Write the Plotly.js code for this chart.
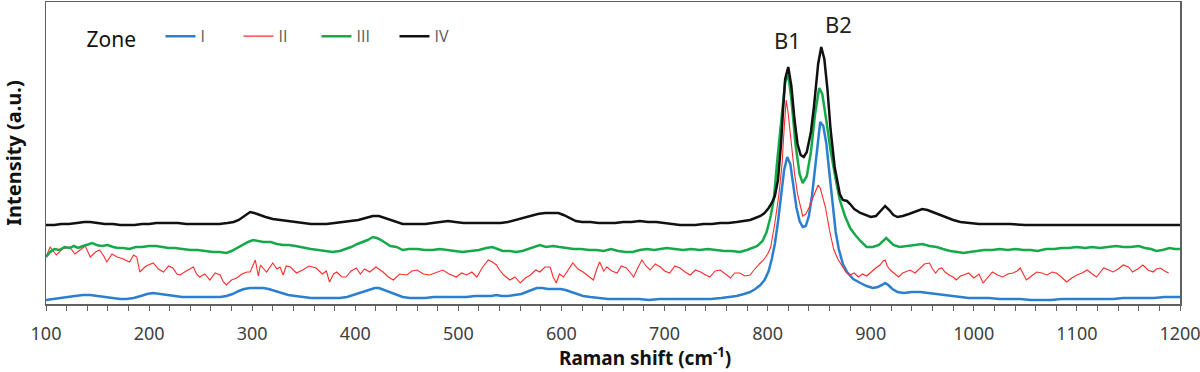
<!DOCTYPE html>
<html>
<head>
<meta charset="utf-8">
<script src="https://cdn.plot.ly/plotly-3.0.1.min.js"></script>
<style>
  html, body { margin: 0; padding: 0; background: #fff; }
  #ramanChart { width: 1200px; height: 372px; }
</style>
</head>
<body>
<div id="ramanChart"></div>
<script>
const palette = {
  zone1: "#2b7fd1",
  zone2: "#ff2b2b",
  zone3: "#16a94b",
  zone4: "#111111",
  axis: "#5f5f5f",
  tick: "#404040",
  ink: "#111111"
};
const fontFamily = "Noto Sans, sans-serif";

const zoneNames = ["I", "II", "III", "IV"];

// Zone I (blue)
const zone1Shift = [
  100, 106, 113, 120, 128, 136, 143, 150, 157, 165,
  172, 178, 185, 192, 198, 204, 210, 217, 224, 232,
  240, 248, 256, 263, 269, 275, 281, 287, 292, 298,
  305, 311, 316, 322, 328, 335, 342, 350, 357, 364,
  371, 378, 385, 392, 398, 404, 410, 415, 419, 423,
  428, 434, 440, 446, 453, 460, 468, 476, 484, 492,
  500, 508, 516, 524, 532, 537, 542, 548, 555, 561,
  566, 571, 576, 581, 587, 593, 599, 604, 609, 615,
  621, 628, 636, 645, 655, 665, 675, 685, 695, 705,
  715, 725, 735, 745, 755, 762, 770, 777, 783, 788,
  793, 797, 801, 804, 807, 810, 813, 816, 819, 822,
  825, 828, 831, 834, 837, 840, 843, 846, 849, 851,
  854, 857, 860, 863, 866, 869, 873, 877, 883, 890,
  896, 902, 907, 911, 914, 917, 921, 926, 932, 940,
  948, 956, 963, 970, 978, 986, 995, 1005, 1015, 1025,
  1035, 1045, 1055, 1065, 1075, 1085, 1095, 1105, 1115, 1125,
  1135, 1145, 1155, 1165, 1175, 1185, 1200
];
const zone1Intensity = [
  4, 5, 6, 7, 8, 9, 9, 8, 7, 6,
  5, 5, 6, 8, 10, 11, 10, 9, 8, 7,
  7, 7, 7, 7, 7, 8, 10, 13, 15, 16,
  16, 16, 15, 13, 11, 9, 8, 7, 6, 6,
  6, 6, 6, 7, 9, 11, 13, 15, 16, 16,
  14, 12, 9, 7, 6, 6, 6, 7, 7, 7,
  7, 7, 8, 8, 8, 9, 8, 8, 9, 10,
  12, 14, 16, 16, 15, 15, 15, 14, 12, 10,
  8, 7, 6, 5, 5, 5, 5, 4, 5, 5,
  5, 5, 5, 5, 6, 7, 8, 10, 12, 15,
  19, 24, 33, 45, 60, 82, 110, 134, 147, 140,
  118, 96, 83, 77, 78, 88, 108, 135, 165, 182,
  178, 160, 130, 98, 72, 55, 40, 32, 25, 21,
  18, 16, 17, 19, 21, 19, 15, 12, 11, 12,
  12, 11, 10, 9, 8, 7, 6, 6, 6, 5,
  5, 5, 4, 4, 4, 5, 5, 5, 5, 5,
  5, 6, 6, 6, 6, 7, 7
];

// Zone II (red, noisy)
const zone2Shift = [
  100, 104, 110, 116, 123, 128, 133, 138, 143, 148,
  152, 156, 159, 164, 169, 175, 181, 185, 188, 191,
  197, 204, 209, 214, 219, 223, 227, 230, 236, 243,
  246, 249, 254, 259, 264, 269, 272, 275, 280, 285,
  290, 295, 298, 303, 306, 308, 314, 320, 324, 327,
  330, 333, 337, 343, 349, 355, 362, 368, 372, 375,
  379, 382, 387, 391, 396, 401, 405, 409, 414, 420,
  427, 432, 437, 443, 450, 455, 460, 466, 472, 478,
  485, 491, 498, 503, 508, 513, 518, 523, 529, 533,
  537, 540, 544, 550, 555, 560, 565, 570, 575, 579,
  584, 589, 592, 595, 598, 602, 606, 611, 616, 621,
  626, 631, 634, 637, 641, 644, 649, 654, 658, 663,
  667, 670, 674, 678, 682, 686, 691, 696, 700, 705,
  710, 715, 720, 725, 730, 735, 740, 744, 749, 754,
  759, 764, 768, 773, 778, 783, 786, 789, 792, 796,
  800, 803, 807, 811, 814, 816, 818, 820, 823, 826,
  829, 832, 834, 837, 840, 843, 846, 849, 851, 853,
  856, 860, 864, 868, 872, 876, 880, 884, 888, 892,
  896, 900, 905, 909, 912, 914, 916, 919, 923, 927,
  931, 935, 938, 943, 948, 952, 957, 960, 963, 966,
  969, 972, 976, 980, 983, 987, 990, 995, 1000, 1005,
  1009, 1013, 1018, 1023, 1028, 1033, 1038, 1042, 1045, 1048,
  1051, 1056, 1061, 1066, 1071, 1076, 1080, 1085, 1090, 1095,
  1100, 1105, 1110, 1115, 1119, 1122, 1126, 1131, 1135, 1140,
  1145, 1150, 1154, 1159, 1164, 1169, 1174, 1177, 1181, 1185,
  1189
];
const zone2Intensity = [
  47, 57, 49, 55, 57, 50, 54, 58, 47, 52,
  54, 48, 42, 50, 47, 45, 42, 49, 47, 32,
  38, 41, 35, 32, 38, 36, 30, 29, 33, 37,
  30, 27, 30, 24, 31, 29, 22, 19, 24, 26,
  30, 32, 32, 44, 28, 39, 32, 41, 35, 37,
  29, 38, 37, 31, 34, 38, 36, 30, 33, 22,
  30, 32, 27, 27, 33, 36, 30, 35, 32, 37,
  32, 27, 24, 30, 29, 33, 34, 30, 29, 31,
  34, 30, 27, 31, 29, 32, 27, 36, 44, 42,
  39, 34, 29, 24, 27, 21, 26, 29, 34, 32,
  37, 37, 27, 21, 30, 27, 33, 41, 35, 32,
  28, 24, 34, 42, 33, 37, 33, 31, 38, 36,
  31, 27, 36, 44, 38, 34, 40, 37, 33, 31,
  38, 36, 32, 29, 34, 32, 29, 27, 33, 34,
  30, 26, 31, 31, 28, 29, 33, 37, 40, 44,
  50, 57, 81, 110, 140, 175, 204, 190, 160, 131,
  110, 95, 88, 90, 96, 104, 112, 119, 116, 108,
  97, 74, 55, 45, 38, 32, 29, 31, 27, 30,
  28, 32, 36, 39, 43, 44, 38, 34, 30, 27,
  31, 33, 34, 31, 36, 40, 41, 35, 31, 35,
  36, 32, 29, 27, 24, 28, 29, 31, 26, 30,
  21, 26, 32, 29, 27, 30, 31, 33, 36, 30,
  24, 28, 32, 31, 29, 32, 31, 27, 22, 26,
  29, 31, 34, 30, 27, 31, 36, 34, 32, 35,
  39, 37, 32, 35, 39, 34, 32, 35, 36, 33,
  31
];

// Zone III (green)
const zone3Shift = [
  100, 104, 108, 113, 118, 123, 127, 131, 136, 140,
  145, 149, 154, 160, 165, 170, 175, 181, 187, 193,
  200, 207, 213, 219, 225, 233, 240, 247, 254, 262,
  268, 275, 280, 285, 290, 296, 301, 306, 311, 318,
  324, 330, 336, 342, 350, 357, 364, 372, 378, 385,
  391, 396, 402, 407, 412, 417, 421, 425, 430, 434,
  440, 446, 452, 460, 468, 475, 482, 490, 497, 504,
  512, 520, 527, 533, 538, 543, 550, 556, 562, 568,
  574, 579, 585, 592, 598, 605, 612, 619, 627, 634,
  641, 648, 655, 662, 669, 676, 683, 690, 697, 702,
  710, 718, 726, 734, 742, 750, 758, 765, 773, 780,
  786, 790, 795, 799, 803, 806, 809, 813, 817, 820,
  823, 827, 831, 834, 838, 842, 846, 850, 853, 857,
  861, 866, 870, 875, 880, 885, 890, 896, 902, 908,
  912, 915, 918, 922, 928, 935, 942, 950, 957, 964,
  970, 977, 984, 990, 996, 1003, 1010, 1018, 1025, 1033,
  1040, 1048, 1055, 1062, 1070, 1078, 1085, 1092, 1100, 1108,
  1115, 1122, 1130, 1138, 1145, 1152, 1160, 1166, 1172, 1177,
  1183, 1190, 1195, 1200
];
const zone3Intensity = [
  47, 52, 55, 54, 57, 56, 58, 56, 58, 59,
  61, 59, 58, 59, 57, 56, 56, 55, 57, 57,
  58, 58, 57, 56, 56, 55, 54, 54, 53, 52,
  52, 51, 53, 56, 59, 62, 64, 63, 62, 62,
  60, 59, 59, 58, 56, 55, 54, 53, 52, 53,
  55, 57, 60, 62, 64, 67, 66, 64, 61, 58,
  57, 54, 55, 55, 54, 54, 55, 54, 53, 52,
  53, 54, 56, 57, 55, 53, 53, 52, 53, 55,
  57, 59, 57, 58, 57, 56, 55, 55, 54, 54,
  53, 55, 53, 52, 52, 54, 55, 54, 55, 56,
  55, 54, 55, 54, 55, 54, 53, 53, 52, 54,
  56, 58, 63, 72, 88, 105, 140, 185, 222, 229,
  205, 160, 130, 121, 128, 152, 190, 216, 210, 183,
  154, 125, 104, 88, 76, 69, 63, 57, 57, 59,
  63, 66, 63, 59, 57, 58, 59, 60, 58, 57,
  55, 53, 52, 51, 52, 53, 54, 54, 55, 54,
  55, 54, 54, 53, 55, 55, 56, 56, 57, 56,
  57, 56, 57, 58, 57, 57, 58, 56, 55, 53,
  54, 56, 55, 55
];

// Zone IV (black)
const zone4Shift = [
  100, 108, 115, 122, 130, 137, 143, 150, 157, 165,
  172, 178, 186, 193, 200, 207, 213, 220, 228, 236,
  244, 252, 260, 268, 276, 282, 287, 291, 295, 298,
  302, 307, 313, 320, 327, 335, 342, 350, 357, 364,
  372, 380, 388, 396, 403, 410, 417, 423, 429, 435,
  441, 446, 453, 460, 468, 475, 483, 490, 497, 505,
  513, 520, 528, 535, 541, 548, 555, 562, 570, 577,
  584, 591, 597, 602, 608, 614, 620, 628, 636, 644,
  652, 660, 668, 676, 684, 692, 700, 708, 715, 722,
  730, 738, 746, 754, 762, 770, 777, 783, 788, 793,
  797, 801, 804, 807, 810, 813, 815, 817, 820, 823,
  826, 829, 832, 835, 838, 842, 845, 849, 852, 855,
  858, 861, 865, 870, 873, 877, 880, 884, 890, 895,
  900, 905, 910, 914, 918, 922, 926, 931, 937, 944,
  950, 955, 960, 967, 974, 980, 987, 995, 1005, 1015,
  1025, 1035, 1050, 1065, 1080, 1095, 1110, 1125, 1140, 1155,
  1170, 1185, 1200
];
const zone4Intensity = [
  79, 79, 80, 80, 81, 82, 82, 81, 80, 80,
  79, 79, 79, 80, 80, 81, 81, 81, 81, 80,
  80, 80, 80, 80, 81, 82, 84, 87, 90, 92,
  91, 89, 87, 85, 84, 83, 82, 81, 80, 80,
  80, 81, 82, 83, 84, 86, 88, 88, 86, 84,
  82, 80, 80, 80, 80, 81, 82, 83, 82, 81,
  81, 81, 81, 81, 81, 82, 84, 86, 88, 90,
  91, 91, 91, 89, 86, 83, 82, 82, 81, 81,
  81, 82, 82, 83, 82, 82, 81, 80, 79, 79,
  79, 80, 80, 81, 81, 82, 83, 84, 86, 88,
  91, 96, 101, 108, 124, 160, 195, 225, 237, 218,
  185, 160, 149, 147, 152, 172, 198, 240, 257, 245,
  215, 175, 137, 110, 104, 103, 100, 95, 91, 89,
  87, 88, 93, 98, 94, 89, 87, 88, 90, 93,
  95, 94, 92, 89, 86, 84, 82, 81, 80, 80,
  80, 80, 79, 79, 79, 79, 79, 79, 79, 79,
  79, 79, 79
];

const xTicks = [100, 200, 300, 400, 500, 600, 700, 800, 900, 1000, 1100, 1200];
const bandLabels = ["B1", "B2"];
const bandShift = [819, 869];
const bandHeight = [264, 280];

function makePlot(id, data, layout) {
  const el = document.getElementById(id);
  if (!el || !window.Plotly) return;
  Plotly.newPlot(el, data, layout, { displayModeBar: false, staticPlot: true });
}

function zoneTrace(i, x, y, color, width) {
  return {
    x: x,
    y: y,
    name: zoneNames[i],
    type: "scatter",
    mode: "lines",
    line: { color: color, width: width }
  };
}

function drawChart() {
  const traces = [
    zoneTrace(0, zone1Shift, zone1Intensity, palette.zone1, 2.5),
    zoneTrace(1, zone2Shift, zone2Intensity, palette.zone2, 1.1),
    zoneTrace(2, zone3Shift, zone3Intensity, palette.zone3, 2.5),
    zoneTrace(3, zone4Shift, zone4Intensity, palette.zone4, 2.5)
  ];

  makePlot("ramanChart", traces, {
    width: 1200,
    height: 372,
    paper_bgcolor: "#ffffff",
    plot_bgcolor: "#ffffff",
    font: { family: fontFamily, color: palette.ink },
    margin: { t: 2, r: 20, b: 68, l: 46 },
    showlegend: true,
    legend: {
      orientation: "h",
      x: 0.034,
      y: 0.88,
      xanchor: "left",
      yanchor: "middle",
      bgcolor: "rgba(0,0,0,0)",
      itemwidth: 30,
      entrywidth: 33,
      title: { text: "Zone&nbsp;&nbsp;&nbsp;", side: "left", font: { family: fontFamily, size: 21, color: "#111" } },
      font: { family: "Open Sans, sans-serif", size: 16, color: "#5a5a5a" },
      traceorder: "normal"
    },
    xaxis: {
      range: [100, 1200],
      tickmode: "array",
      tickvals: xTicks,
      ticktext: xTicks.map(String),
      ticks: "outside",
      ticklen: 5,
      tickcolor: palette.axis,
      ticklabelstandoff: 8,
      ticklabeloverflow: "allow",
      tickfont: { family: fontFamily, size: 18, color: palette.tick },
      showline: true,
      linecolor: palette.axis,
      linewidth: 1.5,
      mirror: true,
      showgrid: false,
      zeroline: false,
      minor: { tick0: 100, dtick: 20, ticks: "outside", ticklen: 5, tickcolor: palette.axis }
    },
    yaxis: {
      range: [0, 302],
      showticklabels: false,
      ticks: "",
      showline: true,
      linecolor: palette.axis,
      linewidth: 1.5,
      mirror: true,
      showgrid: false,
      zeroline: false,
      title: {
        text: "<b>Intensity (a.u.)</b>",
        font: { family: fontFamily, size: 20, color: palette.ink },
        standoff: 19
      }
    },
    annotations: bandLabels.map((label, i) => ({
      x: bandShift[i],
      y: bandHeight[i],
      text: label,
      showarrow: false,
      font: { family: fontFamily, size: 22, color: "#222" }
    })).concat([{
      xref: "paper",
      yref: "paper",
      x: 0.528,
      y: -0.176,
      xanchor: "center",
      yanchor: "middle",
      text: "<b>Raman shift (cm<sup>-1</sup>)</b>",
      showarrow: false,
      font: { family: fontFamily, size: 19, color: palette.ink }
    }])
  });
}

document.addEventListener("DOMContentLoaded", drawChart);
</script>
</body>
</html>
